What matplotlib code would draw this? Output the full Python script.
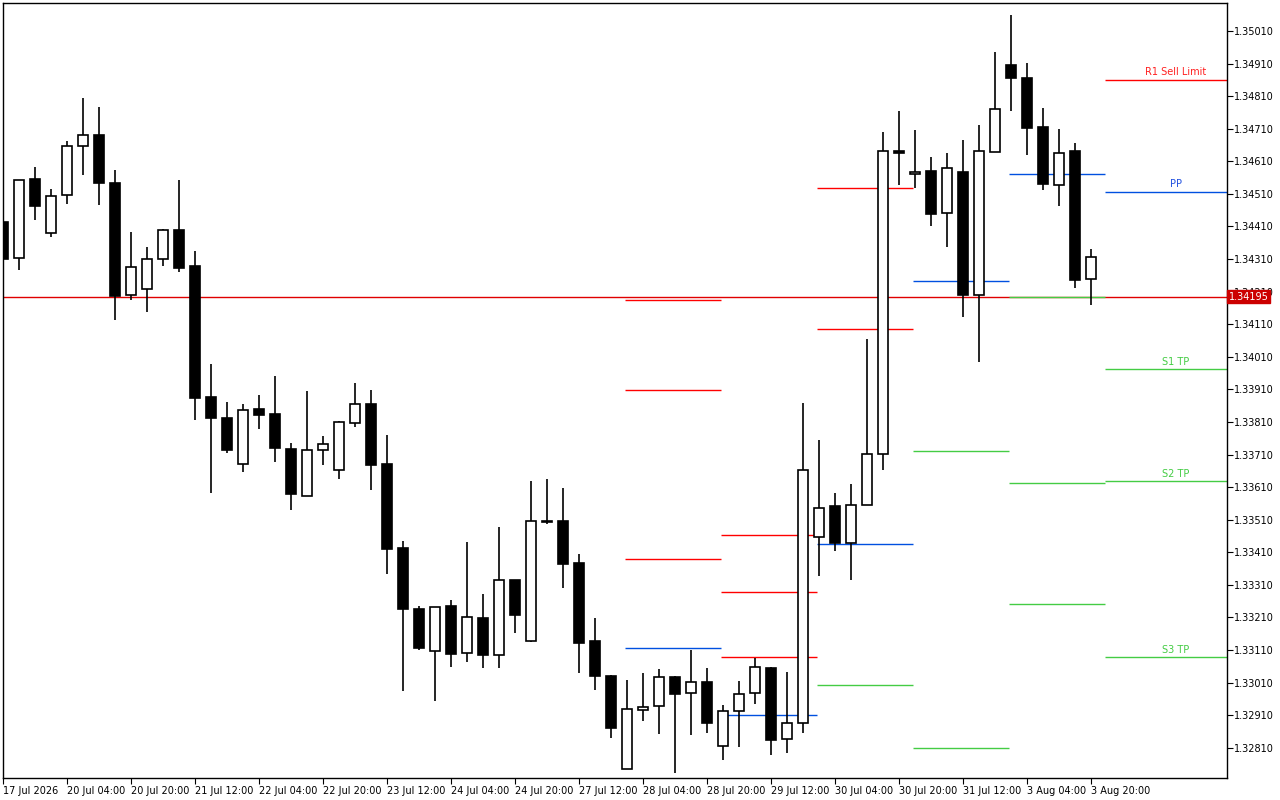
import matplotlib
matplotlib.use("Agg")
import matplotlib.pyplot as plt
import numpy as np

opens  = [1.34424,1.34313,1.34556,1.34390,1.34507,1.34657,1.34691,1.34543,1.34200,1.34218,
          1.34310,1.34399,1.34289,1.33886,1.33822,1.33681,1.33850,1.33834,1.33727,1.33582,
          1.33724,1.33662,1.33807,1.33865,1.33681,1.33423,1.33236,1.33107,1.33245,1.33100,
          1.33208,1.33094,1.33325,1.33137,1.33506,1.33506,1.33377,1.33137,1.33030,1.32744,
          1.32925,1.32938,1.33027,1.32978,1.33011,1.32815,1.32922,1.32978,1.33054,1.32836,
          1.32886,1.33457,1.33552,1.33438,1.33555,1.33711,1.34642,1.34571,1.34580,1.34451,
          1.34577,1.34200,1.34639,1.34906,1.34866,1.34715,1.34537,1.34642,1.34249]
closes = [1.34310,1.34553,1.34473,1.34503,1.34657,1.34691,1.34543,1.34196,1.34285,1.34310,
          1.34399,1.34282,1.33883,1.33822,1.33724,1.33846,1.33831,1.33730,1.33589,1.33724,
          1.33742,1.33810,1.33865,1.33678,1.33420,1.33236,1.33116,1.33242,1.33097,1.33211,
          1.33094,1.33325,1.33217,1.33506,1.33503,1.33374,1.33131,1.33030,1.32870,1.32929,
          1.32935,1.33027,1.32975,1.33011,1.32886,1.32922,1.32975,1.33057,1.32833,1.32886,
          1.33662,1.33546,1.33438,1.33555,1.33711,1.34642,1.34636,1.34577,1.34448,1.34589,
          1.34200,1.34642,1.34771,1.34866,1.34712,1.34540,1.34635,1.34246,1.34316]
highs  = [1.34445,1.34553,1.34592,1.34525,1.34672,1.34804,1.34777,1.34583,1.34393,1.34347,
          1.34402,1.34553,1.34335,1.33988,1.33871,1.33865,1.33893,1.33951,1.33745,1.33905,
          1.33767,1.33813,1.33929,1.33908,1.33770,1.33444,1.33245,1.33242,1.33263,1.33441,
          1.33282,1.33487,1.33325,1.33628,1.33635,1.33607,1.33404,1.33208,1.33033,1.33018,
          1.33039,1.33051,1.33030,1.33110,1.33054,1.32941,1.33014,1.33085,1.33057,1.33042,
          1.33868,1.33754,1.33592,1.33619,1.34064,1.34700,1.34764,1.34706,1.34623,1.34635,
          1.34675,1.34721,1.34946,1.35059,1.34912,1.34774,1.34709,1.34666,1.34341]
lows   = [1.34301,1.34276,1.34430,1.34378,1.34479,1.34568,1.34476,1.34123,1.34184,1.34147,
          1.34289,1.34270,1.33816,1.33592,1.33714,1.33656,1.33788,1.33687,1.33539,1.33582,
          1.33678,1.33635,1.33794,1.33601,1.33343,1.32984,1.33110,1.32953,1.33057,1.33073,
          1.33054,1.33054,1.33162,1.33134,1.33496,1.33300,1.33039,1.32987,1.32840,1.32744,
          1.32892,1.32852,1.32732,1.32849,1.32855,1.32772,1.32812,1.32944,1.32787,1.32793,
          1.32855,1.33337,1.33414,1.33325,1.33555,1.33662,1.34537,1.34528,1.34411,1.34347,
          1.34132,1.33994,1.34639,1.34764,1.34629,1.34522,1.34473,1.34221,1.34169]

tick_labels = ["17 Jul 2026","20 Jul 04:00","20 Jul 20:00","21 Jul 12:00","22 Jul 04:00",
               "22 Jul 20:00","23 Jul 12:00","24 Jul 04:00","24 Jul 20:00","27 Jul 12:00",
               "28 Jul 04:00","28 Jul 20:00","29 Jul 12:00","30 Jul 04:00","30 Jul 20:00",
               "31 Jul 12:00","3 Aug 04:00","3 Aug 20:00"]

current_price = 1.34195

# pivot segments: (start index, end index, price, color)
RED, BLUE, GREEN = "#ff0000", "#0050e0", "#44cc44"
seg_starts = [38.9, 44.9, 50.9, 56.9, 62.9, 68.9]
seg_levels = [
    [(1.34184, RED), (1.33908, RED), (1.33389, RED), (1.33116, BLUE)],
    [(1.33463, RED), (1.33288, RED), (1.33088, RED), (1.32910, BLUE)],
    [(1.34528, RED), (1.34095, RED), (1.33435, BLUE), (1.33002, GREEN)],
    [(1.34242, BLUE), (1.33721, GREEN), (1.32809, GREEN)],
    [(1.34571, BLUE), (1.34195, GREEN), (1.33622, GREEN), (1.33251, GREEN)],
    [(1.34860, RED), (1.34516, BLUE), (1.33972, GREEN), (1.33628, GREEN), (1.33088, GREEN)],
]
right_labels = [("R1 Sell Limit", 1.34860, "#ff2020"), ("PP", 1.34516, "#2050e0"),
                ("S1 TP", 1.33972, "#44cc44"), ("S2 TP", 1.33628, "#44cc44"),
                ("S3 TP", 1.33088, "#44cc44")]

fig = plt.figure(figsize=(12.8, 8.0), dpi=100)
ax = fig.add_axes([3/1280, 22/800, 1224/1280, 775/800])
xmin, xmax = 0, 76.5
ymin, ymax = 1.32717, 1.35096
ax.set_xlim(xmin, xmax)
ax.set_ylim(ymin, ymax)

# current price line
ax.axhline(current_price, color="#e00000", lw=1, zorder=1)

# pivot segments
for k, levels in enumerate(seg_starts):
    x0 = seg_starts[k]
    x1 = seg_starts[k+1] if k+1 < len(seg_starts) else xmax
    for price, col in seg_levels[k]:
        ax.hlines(price, x0, x1, color=col, lw=1, zorder=2)

for txt, price, col in right_labels:
    ax.text(73.3, price + 0.00008, txt, color=col, fontsize=7, ha="center", va="bottom",
            fontfamily="DejaVu Sans")

# candles
idx = np.arange(len(opens))
o = np.array(opens); c = np.array(closes); h = np.array(highs); l = np.array(lows)
ax.vlines(idx, l, h, color="black", lw=1.2, zorder=3)
bottom = np.minimum(o, c)
height = np.maximum(np.abs(c - o), 0.00003)
up = c >= o
ax.bar(idx[up], height[up], bottom=bottom[up], width=0.62, facecolor="white",
       edgecolor="black", lw=1.2, zorder=4)
ax.bar(idx[~up], height[~up], bottom=bottom[~up], width=0.62, facecolor="black",
       edgecolor="black", lw=1.2, zorder=4)

# axes styling
for s in ["left", "top", "right", "bottom"]:
    ax.spines[s].set_linewidth(1)
ax.yaxis.tick_right()
yt = np.round(np.arange(1.32810, 1.35011, 0.001), 5)
ax.set_yticks(yt)
ax.set_yticklabels([f"{v:.5f}" for v in yt], fontsize=7)
ax.tick_params(axis="y", direction="out", length=4, pad=1)
xt = np.arange(0, 4*len(tick_labels), 4)
ax.set_xticks(xt)
ax.set_xticklabels(tick_labels, fontsize=7, ha="left")
ax.tick_params(axis="x", direction="out", length=4, pad=2)

# current price tag
ax.text(1.0015, current_price, f"{current_price:.5f}", transform=ax.get_yaxis_transform(),
        color="white", fontsize=7, va="center", ha="left",
        bbox=dict(boxstyle="square,pad=0.15", fc="#cc0000", ec="#cc0000"), zorder=10,
        clip_on=False)

fig.savefig("out.png", dpi=100, facecolor="white")
